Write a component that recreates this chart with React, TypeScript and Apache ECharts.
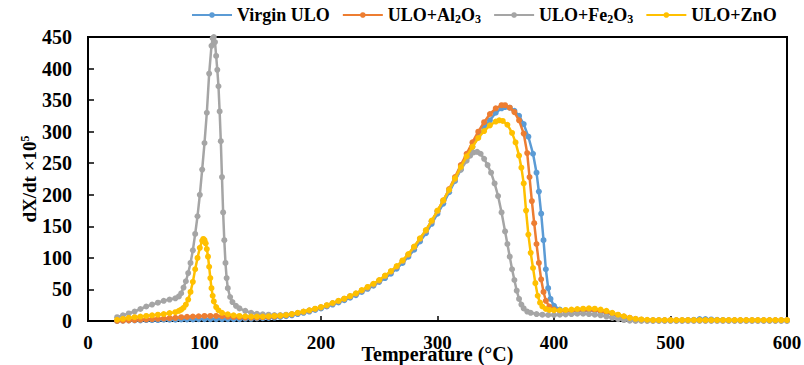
import React, { useEffect, useRef } from "react";
import * as echarts from "echarts";

const seriesNames = ["Virgin ULO", "ULO+Al2O3", "ULO+Fe2O3", "ULO+ZnO"];
const colors = ["#5B9BD5", "#ED7D31", "#A5A5A5", "#FFC000"];
const xTicks = [0, 100, 200, 300, 400, 500, 600];
const yTicks = [0, 50, 100, 150, 200, 250, 300, 350, 400, 450];

const virginULO = [
  [25, 0], [30, 0.5], [35, 1], [40, 1], [45, 1], [50, 1.5], [55, 1.5], [60, 1.5], [65, 2], [70, 2], [75, 2], [80, 2.5], [85, 2.5], [90, 2.5], [95, 3], [100, 3], [105, 3], [110, 3], [115, 3], [120, 3], [125, 3], [130, 3], [135, 3.5], [140, 3.5], [145, 4], [150, 4.5], [155, 5], [160, 5.5], [165, 6.5], [170, 7.5], [175, 9], [180, 11], [185, 13], [190, 15], [195, 17.5], [200, 20], [205, 23], [210, 26], [215, 29.5], [220, 33], [225, 37], [230, 41], [235, 46], [240, 51], [245, 56], [250, 62], [255, 68], [260, 75], [265, 83], [270, 92], [275, 102], [280, 113], [285, 126], [290, 139], [295, 154], [300, 170], [305, 186], [310, 204], [315, 222], [320, 240], [325, 258], [330, 276], [335, 292], [340, 306], [345, 318], [350, 330], [355, 337], [358, 339], [362, 338], [366, 333], [370, 325], [374, 312], [378, 292], [382, 265], [385, 235], [387, 205], [389, 170], [391, 128], [393, 82], [395, 52], [397, 35], [400, 24], [405, 18], [410, 16], [415, 16], [420, 16], [425, 16.5], [430, 17], [435, 16.5], [440, 15], [445, 13], [450, 11], [455, 8.5], [460, 6], [465, 4.5], [470, 3], [475, 2], [480, 1], [485, 1], [490, 1], [495, 1], [500, 1], [505, 1], [510, 1], [515, 1.5], [520, 2], [525, 3], [530, 3], [535, 2.5], [540, 2], [545, 1.5], [550, 1], [555, 1], [560, 1], [565, 1], [570, 1], [575, 1], [580, 1], [585, 1], [590, 1], [595, 1], [600, 1],
];

const uloAl2O3 = [
  [25, 0], [30, 0.5], [35, 1], [40, 1.5], [45, 2], [50, 2.5], [55, 3], [60, 3.5], [65, 4], [70, 4.5], [75, 5], [80, 6], [85, 6.5], [90, 7], [95, 7.5], [100, 8], [105, 8], [110, 8], [115, 7.5], [120, 7], [125, 6.5], [130, 6], [135, 5.5], [140, 5.5], [145, 5.5], [150, 6], [155, 6.5], [160, 7], [165, 8], [170, 9], [175, 10.5], [180, 12.5], [185, 14.5], [190, 16.5], [195, 19], [200, 21.5], [205, 24.5], [210, 28], [215, 31.5], [220, 35], [225, 39], [230, 43], [235, 48], [240, 53], [245, 58], [250, 64], [255, 71], [260, 78], [265, 86], [270, 95], [275, 105], [280, 117], [285, 130], [290, 143], [295, 158], [300, 174], [305, 191], [310, 209], [315, 228], [320, 247], [325, 265], [330, 283], [335, 300], [340, 315], [345, 328], [350, 337], [355, 342], [358, 342], [362, 338], [366, 331], [370, 318], [374, 297], [377, 266], [379, 228], [381, 190], [383, 155], [385, 122], [387, 92], [389, 66], [391, 46], [393, 32], [396, 23], [400, 18], [405, 16], [410, 16], [415, 16], [420, 17], [425, 17.5], [430, 18], [435, 17], [440, 16], [445, 14], [450, 12], [455, 9], [460, 7], [465, 5], [470, 3], [475, 2], [480, 1], [485, 1], [490, 1], [495, 1], [500, 1], [505, 1], [510, 1], [515, 1], [520, 1], [525, 1], [530, 1], [535, 1], [540, 1], [545, 1], [550, 1], [555, 1], [560, 1], [565, 1], [570, 1], [575, 1], [580, 1], [585, 1], [590, 1], [595, 1], [600, 1],
];

const uloFe2O3 = [
  [25, 6], [30, 9], [35, 12], [40, 15], [45, 19], [50, 23], [55, 26], [60, 29], [65, 32], [70, 34], [75, 36], [78, 39], [80, 44], [82, 53], [84, 63], [86, 76], [88, 92], [90, 112], [92, 138], [94, 166], [96, 200], [98, 240], [100, 282], [102, 330], [104, 392], [106, 436], [107, 448], [108, 450], [109, 442], [110, 420], [111, 398], [112, 372], [113, 332], [114, 285], [115, 228], [116, 172], [117, 128], [118, 92], [119, 68], [120, 52], [122, 38], [124, 30], [127, 24], [130, 20], [135, 16], [140, 13], [145, 11.5], [150, 10.5], [155, 10], [160, 9.5], [165, 9.5], [170, 10], [175, 11], [180, 12.5], [185, 14.5], [190, 16.5], [195, 19], [200, 21.5], [205, 24.5], [210, 28], [215, 31.5], [220, 35], [225, 39], [230, 43], [235, 48], [240, 53], [245, 58], [250, 64], [255, 71], [260, 78], [265, 86], [270, 95], [275, 105], [280, 117], [285, 130], [290, 143], [295, 158], [300, 174], [305, 190], [310, 207], [315, 224], [320, 240], [325, 254], [328, 262], [331, 267], [334, 268], [337, 265], [340, 257], [343, 247], [346, 235], [349, 218], [352, 198], [355, 172], [358, 142], [360, 122], [362, 102], [364, 82], [366, 65], [368, 48], [370, 35], [372, 26], [374, 20], [377, 15], [380, 13], [385, 11], [390, 10], [395, 9.5], [400, 9.5], [405, 10], [410, 10.5], [415, 11], [420, 11.5], [425, 11.5], [430, 11], [435, 10], [440, 9], [445, 7], [450, 5], [455, 3], [460, 1.5], [465, 0.5], [470, 0], [475, 0], [480, 0], [485, 0], [490, 0], [495, 0], [500, 0], [505, 0], [510, 0], [515, 0], [520, 0], [525, 0], [530, 0], [535, 0], [540, 0], [545, 0], [550, 0], [555, 0], [560, 0], [565, 0], [570, 0], [575, 0], [580, 0], [585, 0], [590, 0], [595, 0], [600, 0],
];

const uloZnO = [
  [25, 2], [30, 3.5], [35, 5], [40, 6], [45, 7], [50, 8], [55, 9], [60, 10], [65, 11], [70, 12.5], [75, 14], [78, 16], [80, 18], [82, 21], [84, 26], [86, 34], [88, 46], [90, 62], [92, 82], [94, 100], [96, 116], [98, 127], [99, 130], [100, 128], [101, 123], [102, 114], [103, 102], [104, 86], [105, 68], [106, 52], [107, 40], [108, 31], [110, 22], [112, 17], [115, 13], [120, 10.5], [125, 9], [130, 8], [135, 7.5], [140, 7], [145, 7], [150, 7], [155, 7.5], [160, 8], [165, 8.5], [170, 9.5], [175, 11], [180, 13], [185, 15], [190, 17], [195, 19.5], [200, 22], [205, 25], [210, 28.5], [215, 32], [220, 35.5], [225, 39.5], [230, 44], [235, 49], [240, 54], [245, 59], [250, 65], [255, 72], [260, 79], [265, 87], [270, 96], [275, 106], [280, 118], [285, 131], [290, 144], [295, 159], [300, 175], [305, 191], [310, 208], [315, 226], [320, 244], [325, 261], [330, 276], [335, 290], [340, 301], [345, 310], [350, 316], [353, 318], [356, 317], [360, 311], [364, 298], [367, 283], [370, 262], [372, 243], [374, 218], [376, 175], [378, 137], [380, 108], [382, 84], [384, 60], [386, 40], [388, 29], [390, 23], [393, 19], [396, 17.5], [400, 17], [405, 17], [410, 17.5], [415, 18], [420, 19], [425, 19.5], [430, 20], [435, 19.5], [440, 18], [445, 16], [450, 13], [455, 10], [460, 7.5], [465, 5], [470, 3.5], [475, 2.5], [480, 2], [485, 1.5], [490, 1.5], [495, 1.5], [500, 1.5], [505, 1.5], [510, 1.5], [515, 1.5], [520, 1.5], [525, 1.5], [530, 1.5], [535, 1.5], [540, 1.5], [545, 1.5], [550, 1.5], [555, 1.5], [560, 1.5], [565, 1.5], [570, 1.5], [575, 1.5], [580, 1.5], [585, 1.5], [590, 1.5], [595, 1.5], [600, 1.5],
];

const seriesData = [virginULO, uloAl2O3, uloFe2O3, uloZnO];

const FONT = "'Liberation Serif', 'Times New Roman', serif";

const legendLabels: Record<string, string> = {
  "Virgin ULO": "Virgin ULO",
  "ULO+Al2O3": "ULO+Al{sub|2}O{sub|3}",
  "ULO+Fe2O3": "ULO+Fe{sub|2}O{sub|3}",
  "ULO+ZnO": "ULO+ZnO",
};

export default function App() {
  const ref = useRef<HTMLDivElement>(null);
  useEffect(() => {
    if (!ref.current) return;
    const chart = echarts.init(ref.current, undefined, { renderer: "svg" });
    const option = {
      animation: false,
      backgroundColor: "#ffffff",
      grid: {
        left: 88,
        right: 17,
        top: 37,
        bottom: 44,
        show: true,
        borderColor: "#000",
        borderWidth: 2,
        containLabel: false,
        outerBoundsMode: "none",
      },
      legend: {
        data: seriesNames,
        top: 1,
        left: 186,
        itemWidth: 40,
        itemHeight: 7,
        itemGap: 12,
        formatter: (name: string) => legendLabels[name] || name,
        textStyle: {
          fontFamily: FONT,
          fontWeight: "bold",
          fontSize: 18,
          color: "#000",
          rich: {
            sub: {
              fontFamily: FONT,
              fontWeight: "bold",
              fontSize: 12,
              color: "#000",
              padding: [8, 0, 0, 0],
            },
          },
        },
      },
      xAxis: {
        type: "value",
        min: xTicks[0],
        max: xTicks[xTicks.length - 1],
        interval: 100,
        name: "Temperature (°C)",
        nameLocation: "middle",
        nameGap: 23,
        nameMoveOverlap: false,
        nameTextStyle: { fontFamily: FONT, fontWeight: "bold", fontSize: 20, color: "#000" },
        axisLine: { onZero: false, lineStyle: { color: "#000", width: 2 } },
        axisTick: { inside: true, length: 5, lineStyle: { color: "#000", width: 1.5 } },
        axisLabel: { fontFamily: FONT, fontWeight: "bold", fontSize: 19, color: "#000", margin: 12 },
        splitLine: { show: false },
      },
      yAxis: {
        type: "value",
        min: yTicks[0],
        max: yTicks[yTicks.length - 1],
        interval: 50,
        name: "dX/dt ×10{sup|5}",
        nameLocation: "middle",
        nameGap: 49,
        nameMoveOverlap: false,
        nameTextStyle: {
          fontFamily: FONT,
          fontWeight: "bold",
          fontSize: 19,
          color: "#000",
          rich: {
            sup: { fontFamily: FONT, fontWeight: "bold", fontSize: 12, color: "#000", padding: [0, 0, 8, 0] },
          },
        },
        axisLine: { lineStyle: { color: "#000", width: 2 } },
        axisTick: { inside: true, length: 6, lineStyle: { color: "#000", width: 1.5 } },
        axisLabel: { fontFamily: FONT, fontWeight: "bold", fontSize: 20, color: "#000", margin: 16 },
        splitLine: { show: false },
      },
      series: seriesNames.map((name, i) => ({
        name,
        type: "line",
        data: seriesData[i],
        symbol: "circle",
        symbolSize: 6,
        showSymbol: true,
        color: colors[i],
        itemStyle: { color: colors[i] },
        lineStyle: { color: colors[i], width: 2.5 },
        z: 2 + i,
      })),
    };
    chart.setOption(option as any);
    return () => chart.dispose();
  }, []);
  return <div ref={ref} style={{ width: 804, height: 365, position: "absolute", left: 0, top: 0 }} />;
}
